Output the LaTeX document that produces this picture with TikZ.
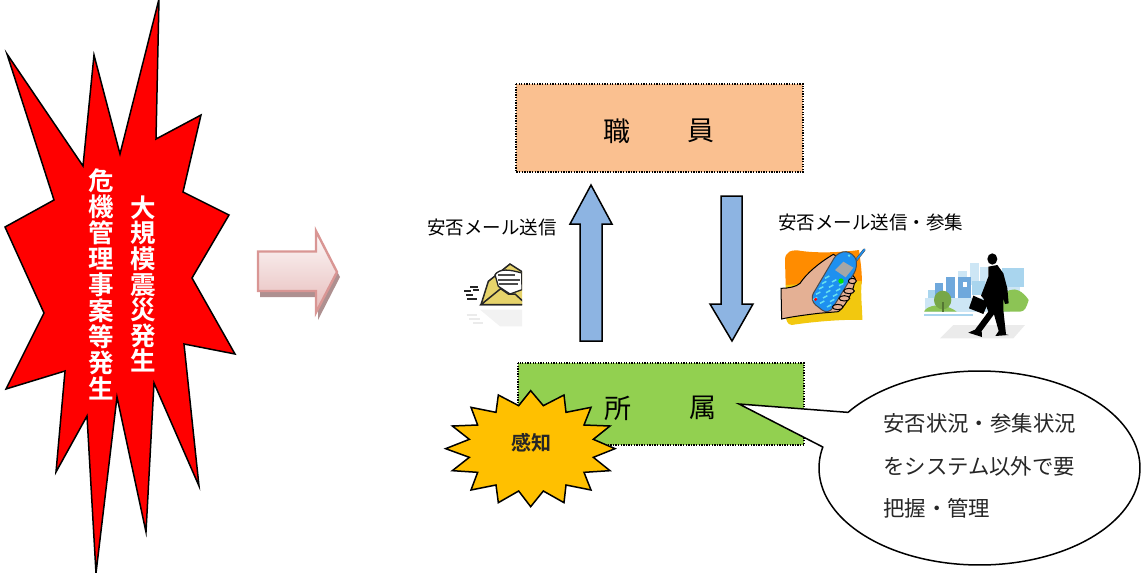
\documentclass[tikz,border=0pt]{standalone}
\usepackage{fontspec}
\newfontfamily\cjk[BoldFont=Noto Sans CJK JP Bold]{Noto Sans CJK JP}
\definecolor{burstred}{HTML}{FF0000}
\definecolor{boxorange}{HTML}{FAC090}
\definecolor{boxgreen}{HTML}{92D050}
\definecolor{arrowblue}{HTML}{8DB4E2}
\definecolor{burstgold}{HTML}{FFC000}
\definecolor{arrowline}{HTML}{D99694}
\definecolor{arrowshadow}{HTML}{AE9090}
\definecolor{envyellow}{HTML}{E6D36B}
\definecolor{skin}{HTML}{E4B094}
\definecolor{phoneblue}{HTML}{1E90F0}
\definecolor{keycyan}{HTML}{66E0F0}
\definecolor{bgorange}{HTML}{FF8C00}
\definecolor{bgyellow}{HTML}{F2C80F}
\definecolor{treegreen}{HTML}{8CC455}
\definecolor{cityA}{HTML}{CDE6F5}
\definecolor{cityB}{HTML}{A9D5EE}
\definecolor{cityC}{HTML}{6FA8DC}
\tikzset{
  outlined/.style={draw=black,line width=1.5pt,line join=miter,miter limit=10},
  dottedbox/.style={draw=black,line width=1.3pt,dash pattern=on 1.3pt off 1.3pt},
  vtext/.style={font=\cjk\bfseries\fontsize{25.5}{#1}\selectfont,text=white,align=center,inner sep=0pt},
  label/.style={font=\cjk\fontsize{18.5}{20}\selectfont,text=black,inner sep=0pt},
  boxtext/.style={font=\cjk\fontsize{27}{29}\selectfont,text=black,inner sep=0pt},
  calltext/.style={font=\cjk\fontsize{21.4}{22}\selectfont,text=black!85,inner sep=0pt,anchor=west},
  finger/.style={draw=black,line width=1pt,fill=skin},
}
\begin{document}
\begin{tikzpicture}[x=1pt,y=-1pt]
\useasboundingbox (0,0) rectangle (1144,573);
% main burst
\path[outlined,fill=burstred] (159,-1) -- (156,139) -- (201,115) -- (183,192) -- (229,215) -- (192,278) -- (235,354) -- (184,344) -- (199,486) -- (154,383) -- (146,532) -- (117,397) -- (96,573) -- (87,416) -- (56,472) -- (65,371) -- (6,389) -- (44,313) -- (5,227) -- (54,200) -- (7,54) -- (83,166) -- (94,55) -- (120,154) -- cycle;
\node[vtext=26] (crisis) at (101,284) {危\\機\\管\\理\\事\\案\\等\\発\\生};
\node[vtext=25.6] (quake) at (143,284) {大\\規\\模\\震\\災\\発\\生};
% gradient arrow
\fill[arrowshadow] (260,257) -- (318,257) -- (318,236) -- (340,277) -- (318,320) -- (318,297) -- (260,297) -- cycle;
\path[draw=arrowline,line width=2.4pt,top color=white!95!arrowline,bottom color=arrowline!65!white] (258,251.5) -- (316,251.5) -- (316,231) -- (337,272) -- (316,312.5) -- (316,291) -- (258,291) -- cycle;
% boxes
\path[dottedbox,fill=boxorange] (516,84) rectangle (803,172);
\node[boxtext] (staffa) at (617,131) {職};
\node[boxtext] (staffb) at (701,131) {員};
\path[dottedbox,fill=boxgreen] (518,363) rectangle (804,445);
\node[boxtext] (deptA) at (618,408) {所};
\node[boxtext] (deptB) at (703,408) {属};
% block arrows
\path[outlined,fill=arrowblue] (591,185) -- (612,224) -- (602,224) -- (602,341) -- (580,341) -- (580,224) -- (570,224) -- cycle;
\path[outlined,fill=arrowblue] (721,196) -- (742,196) -- (742,304) -- (753,304) -- (732,341) -- (710,304) -- (721,304) -- cycle;
% labels
\node[label] (leftlabel) at (492,227) {安否メール送信};
\node[label,anchor=west] (rightlabel) at (778,223) {安否メール送信・参集};
% sensed burst
\begin{scope}[shift={(440,350)},scale=1/3]
\path[draw=black,line width=1.5pt,fill=burstgold] (272,122) -- (310,167) -- (372,135) -- (378,187) -- (453,172) -- (432,225) -- (510,228) -- (460,268) -- (525,296) -- (460,322) -- (510,362) -- (432,367) -- (453,420) -- (378,405) -- (372,458) -- (310,423) -- (272,470) -- (236,423) -- (175,458) -- (168,405) -- (93,420) -- (113,367) -- (37,362) -- (88,322) -- (17,296) -- (88,268) -- (37,228) -- (113,225) -- (93,172) -- (168,187) -- (175,135) -- (236,167) -- cycle;
\end{scope}
\node[font=\cjk\bfseries\fontsize{20}{22}\selectfont,inner sep=0pt,text=black!85] (sense) at (531,443) {感知};
% callout
\path[draw=black,line width=1.5pt,fill=white,line join=miter] (739,404) -- plot[domain=215:552.5,samples=160] ({979.5+160.5*cos(\x)},{468+97*sin(\x)}) -- cycle;
\node[calltext] (c1) at (883,423) {安否状況・参集状況};
\node[calltext] (c2) at (883,466) {をシステム以外で要};
\node[calltext] (c3) at (883,508) {把握・管理};
% envelope clipart
\begin{scope}[shift={(460,258)},scale=1/3]
\begin{scope}
\clip (0,0) rectangle (186,210);
\fill[black!5] (60,155) -- (186,155) -- (186,205) -- (120,205) -- cycle;
\draw[black!8,line width=2pt] (20,172)--(50,172) (28,184)--(60,184) (40,196)--(70,196);
\path[draw=black!85,line width=1.5pt,fill=envyellow] (63,140) -- (85,70) -- (150,18) -- (200,50) -- (200,140) -- cycle;
\path[draw=black!85,line width=1.3pt,fill=white] (105,50) .. controls (120,30) and (150,35) .. (185,45) -- (186,95) -- (150,108) -- (115,85) -- cycle;
\draw[black!70,line width=2pt] (115,52)--(165,52) (115,65)--(180,65) (118,78)--(175,78);
\path[draw=black!85,line width=1.5pt,fill=envyellow] (63,140) -- (122,92) -- (145,108) -- (165,108) -- (200,140) -- cycle;
\draw[black!85,line width=2pt] (12,100)--(33,100) (40,97)--(58,97) (18,112)--(38,112) (22,122)--(50,122) (30,88)--(55,88);
\end{scope}
\end{scope}
% phone clipart
\begin{scope}[shift={(775,245)},scale=1/3]
\fill[bgorange] (30,45) .. controls (30,20) and (50,12) .. (80,18) .. controls (130,25) and (200,22) .. (252,15) .. controls (258,60) and (262,90) .. (260,118) -- (100,150) -- (32,120) -- cycle;
\fill[bgyellow] (32,120) -- (260,108) .. controls (256,150) and (262,190) .. (262,225) .. controls (200,222) and (100,232) .. (50,240) .. controls (35,238) and (35,225) .. (30,210) -- cycle;
\path[draw=black,line width=1pt,fill=skin] (18,130) .. controls (40,130) and (65,125) .. (75,115) .. controls (95,85) and (130,55) .. (175,28) -- (195,40) -- (240,100) .. controls (240,130) and (215,180) .. (190,200) -- (130,205) .. controls (90,210) and (50,215) .. (20,222) -- cycle;
\draw[black!70,line width=2.6pt,line cap=round] (240,50) -- (268,14);
\draw[phoneblue,line width=1.6pt,line cap=round] (240,50) -- (268,14);
\path[draw=black!70,line width=1pt,fill=phoneblue,rounded corners=8pt] (190,18) -- (236,22) -- (250,64) -- (160,210) -- (103,165) -- cycle;
\fill[black!35] (180,75) -- (205,50) -- (235,68) -- (212,97) -- cycle;
\fill[keycyan] (222,32) circle (4);
\foreach \r in {0,1,2,3,4}{\foreach \c in {0,1,2}{
  \draw[keycyan,line width=1.5pt] ({150-9*\r+21*\c},{100+16*\r+11*\c}) -- +(13,-7);
}}
\fill[green!90!black] (198,108) circle (8);
\fill[red] (122,163) circle (5);
\path[finger] (232,108) ellipse [x radius=12,y radius=8];
\path[finger] (222,138) ellipse [x radius=16,y radius=8];
\path[finger] (208,160) ellipse [x radius=16,y radius=8];
\path[finger] (188,186) ellipse [x radius=16,y radius=8];
\end{scope}
% businessman clipart
\begin{scope}[shift={(920,245)},scale=1/3]
\fill[cityA] (150,55) rectangle (178,120);
\fill[cityA] (180,65) rectangle (205,150);
\fill[cityB] (245,68) rectangle (312,125);
\fill[cityA] (230,125) rectangle (300,175);
\fill[cityA] (115,78) rectangle (140,100);
\fill[cityC] (78,95) rectangle (106,185);
\fill[cityC] (115,95) rectangle (152,160);
\fill[cityB] (155,108) rectangle (195,150);
\fill[cityC] (45,115) rectangle (70,165);
\fill[cityB] (25,135) rectangle (45,175);
\fill[white] (130,110) rectangle (140,125);
\fill[cityA] (15,160) rectangle (270,200);
\fill[treegreen] (12,200) .. controls (20,180) and (70,170) .. (110,200) -- cycle;
\fill[treegreen!85!black] (68,165) circle [x radius=26,y radius=28];
\fill[treegreen] (232,200) .. controls (240,130) and (290,110) .. (326,165) .. controls (320,185) and (315,200) .. (300,200) -- cycle;
\fill[treegreen!60!black] (65,170) rectangle (71,200);
\fill[cityB] (12,208) rectangle (160,212);
\fill[black!8] (60,280) -- (280,280) -- (315,240) -- (100,240) -- cycle;
\fill[black] (147,190) -- (160,152) -- (205,172) -- (190,207) -- cycle;
\fill[black] (217,42) circle [x radius=15,y radius=17];
\fill[black] (205,65) -- (232,60) -- (250,85) -- (262,130) -- (266,175) -- (255,177) -- (250,160) -- (250,195) -- (258,268) -- (266,270) -- (226,273) -- (236,258) -- (222,208) -- (185,258) -- (186,276) -- (145,263) -- (165,254) -- (205,200) -- (190,160) -- (183,152) -- (205,95) -- cycle;
\end{scope}
\end{tikzpicture}
\end{document}
